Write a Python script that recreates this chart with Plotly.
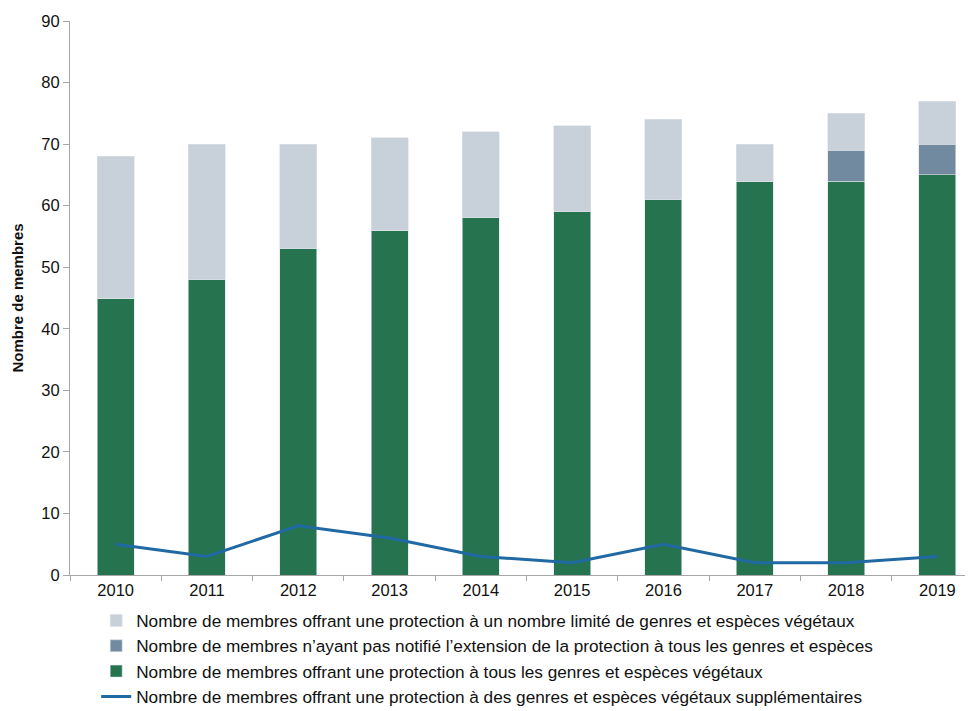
import plotly.graph_objects as go

years = ["2010", "2011", "2012", "2013", "2014", "2015", "2016", "2017", "2018", "2019"]
all_species = [45, 48, 53, 56, 58, 59, 61, 64, 64, 65]
not_notified = [0, 0, 0, 0, 0, 0, 0, 0, 5, 5]
limited = [23, 22, 17, 15, 14, 14, 13, 6, 6, 7]
additional = [5, 3, 8, 6, 3, 2, 5, 2, 2, 3]

names = [
    "Nombre de membres offrant une protection à un nombre limité de genres et espèces végétaux",
    "Nombre de membres n’ayant pas notifié l’extension de la protection à tous les genres et espèces",
    "Nombre de membres offrant une protection à tous les genres et espèces végétaux",
    "Nombre de membres offrant une protection à des genres et espèces végétaux supplémentaires",
]

fig = go.Figure()
fig.add_trace(go.Bar(x=years, y=all_species, name=names[2], marker=dict(color="#26734F", line=dict(color="#DDE3E8", width=0.6)), legendrank=3))
fig.add_trace(go.Bar(x=years, y=not_notified, name=names[1], marker=dict(color="#718AA0", line=dict(color="#DDE3E8", width=0.6)), legendrank=2))
fig.add_trace(go.Bar(x=years, y=limited, name=names[0], marker=dict(color="#C8D0DA", line=dict(color="#DDE3E8", width=0.6)), legendrank=1))
fig.add_trace(go.Scatter(x=years, y=additional, name=names[3], mode="lines", line=dict(color="#2069A3", width=3), legendrank=4))

fig.update_layout(
    width=965, height=711,
    barmode="stack", bargap=0.595,
    plot_bgcolor="white", paper_bgcolor="white",
    margin=dict(l=62, r=0, t=13, b=144),
    font=dict(family="Liberation Sans, Arial", size=16.5, color="#111111"),
    xaxis=dict(range=[-0.5, 9.39], showline=True, linecolor="#A6A6A6", linewidth=1,
               ticks="outside", tickson="boundaries", ticklen=5, tickcolor="#A6A6A6",
               showgrid=False, tickfont=dict(size=16.5)),
    yaxis=dict(range=[0, 90], dtick=10, showline=True, linecolor="#A6A6A6", linewidth=1,
               ticks="outside", ticklen=6, tickcolor="#A6A6A6", showgrid=False, zeroline=False,
               title=dict(text="<b>Nombre de membres</b>", font=dict(size=15), standoff=14),
               tickfont=dict(size=16.5)),
    legend=dict(x=0.029, y=-0.05, xanchor="left", yanchor="top", traceorder="normal",
                font=dict(size=17.2), itemwidth=30, bgcolor="rgba(0,0,0,0)", tracegroupgap=0),
    showlegend=True,
)
fig.write_html("out.html")
